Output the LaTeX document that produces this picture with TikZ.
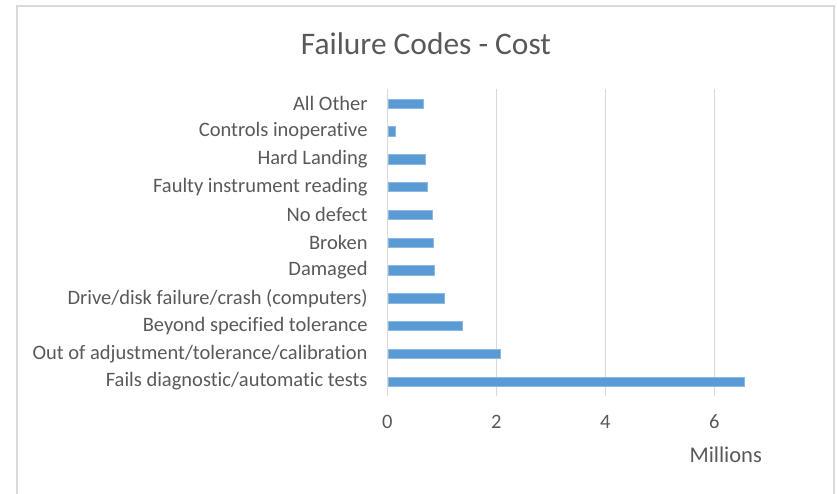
\documentclass[tikz,border=0pt]{standalone}
\usepackage{fontspec}
\setmainfont[Ligatures=NoCommon]{Carlito}
\definecolor{barblue}{HTML}{5B9BD5}
\definecolor{txtgray}{HTML}{595959}
\definecolor{gridgray}{HTML}{D9D9D9}
\begin{document}
\begin{tikzpicture}[x=1pt,y=-1pt,
  catlabel/.style={anchor=east,text=txtgray,font=\fontsize{20.5}{23}\selectfont,inner sep=0pt},
  ticklabel/.style={anchor=center,text=txtgray,font=\fontsize{20.5}{23}\selectfont,inner sep=0pt},
  gridline/.style={draw=gridgray,line width=1.3pt},
  bar/.style={fill=barblue,draw=barblue!70!white,line width=0.5pt},
  frame/.style={draw=gridgray,line width=2pt}]
\useasboundingbox (0,0) rectangle (837,494);
% chart frame (open at the bottom)
\draw[frame] (17,500) -- (17,6) -- (834.3,6) -- (834.3,500);
% title
\node[text=txtgray,font=\fontsize{31.4}{36}\selectfont,inner sep=0pt] (title) at (426,44) {Failure Codes - Cost};
% value axis: 1 million = 54.5 units, origin at x = 387.3
\foreach \v/\n in {0/t0,2/t2,4/t4,6/t6}{
  \draw[gridline] (387.3+54.5*\v,89) -- (387.3+54.5*\v,396);
  \node[ticklabel] (\n) at (387.3+54.5*\v,422) {\v};
}
\node[ticklabel,font=\fontsize{22.5}{25}\selectfont] (unit) at (725.7,455) {Millions};
% bars, top to bottom
\foreach \i/\val/\lab in {
  0/0.668/All Other,
  1/0.147/Controls inoperative,
  2/0.70/Hard Landing,
  3/0.73/Faulty instrument reading,
  4/0.826/No defect,
  5/0.85/Broken,
  6/0.87/Damaged,
  7/1.046/Drive\slash disk failure\slash crash (computers),
  8/1.37/Beyond specified tolerance,
  9/2.07/Out of adjustment\slash tolerance\slash calibration,
  10/6.55/Fails diagnostic\slash automatic tests}{
  \pgfmathsetmacro{\yc}{103.6+27.8*\i}
  \draw[bar] (388,\yc-4.7) rectangle (387.3+54.5*\val,\yc+4.7);
  \node[catlabel] (c\i) at (367.7,\yc) {\lab};
}
\end{tikzpicture}
\end{document}
